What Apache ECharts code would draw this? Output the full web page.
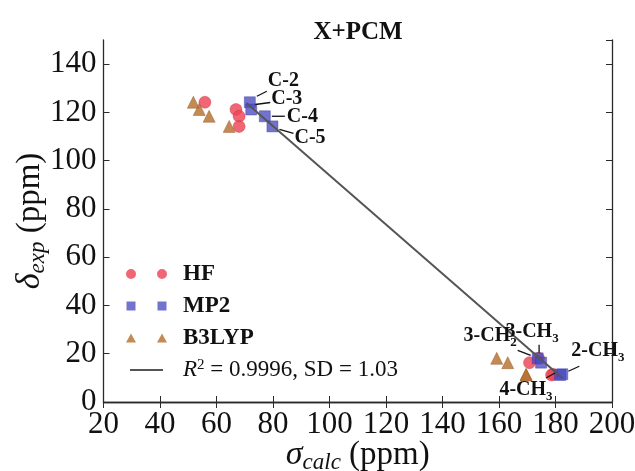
<!DOCTYPE html>
<html>
<head>
<meta charset="utf-8">
<script src="https://cdn.jsdelivr.net/npm/echarts@6/dist/echarts.min.js"></script>
<style>
  html, body { margin: 0; padding: 0; background: #fff; }
  #chart { width: 635px; height: 471px; }
</style>
</head>
<body>
<div id="chart"></div>
<script>
// sites: ring carbons first, then the methyl groups
const siteNames = ['C-2', 'C-3', 'C-4', 'C-5', '3-CH2', '3-CH3', '2-CH3', '4-CH3'];
const deltaExp = [124.2, 121.2, 118.4, 114.2, 18.1, 16.3, 11.5, 11.2];
const sigmaHF = [55.9, 66.9, 68.0, 68.0, 174.0, 170.8, 179.1, 178.6];
const sigmaMP2 = [71.8, 72.3, 77.1, 79.8, 173.7, 174.9, 182.4, 181.6];
const sigmaB3LYP = [51.8, 53.9, 57.4, 64.5, 159.2, 163.1, 169.6, 169.6];
// regression line ends
const fitX = [70.6, 182.5];
const fitY = [123.9, 9.8];
const fitText = ['0.9996', '1.03']; // R^2, SD

// leader line start/end and text position (px from the MP2 point), text align
const annoOffsets = [
  [7, -6, 17, -11, 18, -21, 'left'],
  [4, -5, 19, -7, 20, -11, 'left'],
  [7, 0, 20, 0, 22, 1, 'left'],
  [7, 3, 21, 7, 22, 11, 'left'],
  [-7, -3, -20, -8, -21, -22, 'right'],
  [-2, -10, -2, -18, -9, -31, 'center'],
  [6, -3, 17, -8, 9, -23, 'left'],
  [-5, -2, -14, 3, -34, 15, 'center']
];

const serif = 'Liberation Serif';
const pairs = (xs, ys) => xs.map((x, i) => [x, ys[i]]);

// '3-CH3' -> '{b|3-CH}{s|3}'
function richName(n) {
  const m = n.match(/^(.*CH)(\d)$/);
  return m ? '{b|' + m[1] + '}{s|' + m[2] + '}' : '{b|' + n + '}';
}
const annoRich = {
  b: { fontFamily: serif, fontSize: 20, fontWeight: 'bold', color: '#111', lineHeight: 26 },
  s: { fontFamily: serif, fontSize: 13, fontWeight: 'bold', color: '#111', lineHeight: 13, verticalAlign: 'bottom' }
};
const nameRich = {
  g: { fontFamily: serif, fontSize: 34, fontStyle: 'italic', color: '#111', lineHeight: 38 },
  sub: { fontFamily: serif, fontSize: 23, fontStyle: 'italic', color: '#111', lineHeight: 22, verticalAlign: 'bottom' },
  n: { fontFamily: serif, fontSize: 33, color: '#111', lineHeight: 38 }
};

const chart = echarts.init(document.getElementById('chart'));

const frame = { show: true, lineStyle: { color: '#2a2a2a', width: 1.3 } };
const ticks = { show: true, inside: true, length: 6, lineStyle: { color: '#2a2a2a', width: 1 } };

chart.setOption({
  animation: false,
  title: {
    text: 'X+PCM',
    left: 353,
    top: 15,
    textAlign: 'center',
    textStyle: { fontFamily: serif, fontSize: 25, fontWeight: 'bold', color: '#111' }
  },
  grid: { left: 103.5, right: 23, top: 40, bottom: 69, containLabel: false, outerBoundsMode: 'none' },
  legend: {
    orient: 'vertical',
    left: 126,
    top: 262,
    itemWidth: 41,
    itemHeight: 10,
    itemGap: 8,
    padding: 0,
    selectedMode: false,
    itemStyle: { borderWidth: 0 },
    data: [
      { name: 'HF', icon: 'path://M0,5 A5,5 0 1,1 10,5 A5,5 0 1,1 0,5 Z M31,5 A5,5 0 1,1 41,5 A5,5 0 1,1 31,5 Z' },
      { name: 'MP2', icon: 'path://M0,0 M41,10 M0.5,0.5 h9 v9 h-9 Z M31.5,0.5 h9 v9 h-9 Z' },
      { name: 'B3LYP', icon: 'path://M0,0 M41,10 M5,0.5 L10,9.5 L0,9.5 Z M36,0.5 L41,9.5 L31,9.5 Z' },
      { name: 'fit', icon: 'path://M0,0 M41,10 M4,4 H37 V6 H4 Z', itemStyle: { color: '#555', opacity: 1 } }
    ],
    formatter: function (name) {
      if (name === 'fit') return '{i|R}{sup|2}{r| = ' + fitText[0] + ', SD = ' + fitText[1] + '}';
      return '{n|' + name + '}';
    },
    textStyle: {
      lineHeight: 24,
      rich: {
        n: { fontFamily: serif, fontSize: 23, fontWeight: 'bold', color: '#111', padding: [0, 0, 0, 11], lineHeight: 24 },
        i: { fontFamily: serif, fontSize: 23, fontStyle: 'italic', color: '#111', padding: [0, 0, 0, 11], lineHeight: 24 },
        sup: { fontFamily: serif, fontSize: 15, color: '#111', verticalAlign: 'top', lineHeight: 15 },
        r: { fontFamily: serif, fontSize: 23, color: '#111', lineHeight: 24 }
      }
    }
  },
  xAxis: [
    {
      type: 'value', min: 20, max: 200, interval: 20,
      axisLine: frame, axisTick: ticks, splitLine: { show: false },
      axisLabel: { margin: 7, fontFamily: serif, fontSize: 31, color: '#111' },
      name: '{g|σ}{sub|calc}{n| (ppm)}',
      nameLocation: 'middle', nameGap: 34, nameMoveOverlap: false,
      nameTextStyle: { rich: nameRich }
    },
    {
      type: 'value', position: 'top', min: 20, max: 200, interval: 20,
      axisLine: frame, axisTick: ticks, axisLabel: { show: false }, splitLine: { show: false }
    }
  ],
  yAxis: [
    {
      type: 'value', min: 0, max: 150, interval: 20,
      axisLine: frame, axisTick: ticks, splitLine: { show: false },
      axisLabel: { margin: 7, fontFamily: serif, fontSize: 31, color: '#111', showMaxLabel: false },
      name: '{g|δ}{sub|exp}{n| (ppm)}',
      nameLocation: 'middle', nameGap: 54, nameRotate: 90, nameMoveOverlap: false,
      nameTextStyle: { rich: nameRich }
    },
    {
      type: 'value', position: 'right', min: 0, max: 150, interval: 20,
      axisLine: frame, axisTick: ticks, axisLabel: { show: false }, splitLine: { show: false }
    }
  ],
  series: [
    {
      name: 'HF', type: 'scatter', symbol: 'circle', symbolSize: 12,
      data: pairs(sigmaHF, deltaExp),
      itemStyle: { color: '#EE4455', opacity: 0.82, borderColor: '#C83040', borderWidth: 0.5 }
    },
    {
      name: 'MP2', type: 'scatter', symbol: 'rect', symbolSize: 11,
      data: pairs(sigmaMP2, deltaExp),
      itemStyle: { color: '#4A4AC2', opacity: 0.78, borderColor: '#3030A0', borderWidth: 0.5 }
    },
    {
      name: 'B3LYP', type: 'scatter', symbol: 'triangle', symbolSize: 12,
      data: pairs(sigmaB3LYP, deltaExp),
      itemStyle: { color: '#B8702E', opacity: 0.82, borderColor: '#8A5020', borderWidth: 0.5 }
    },
    {
      name: 'fit', type: 'line', showSymbol: false, symbol: 'none',
      data: pairs(fitX, fitY), z: 4,
      color: '#555',
      lineStyle: { color: '#555', width: 2 }
    },
    {
      name: 'labels', type: 'custom', z: 5,
      data: pairs(sigmaMP2, deltaExp),
      renderItem: function (params, api) {
        const p = api.coord([api.value(0), api.value(1)]);
        const o = annoOffsets[params.dataIndex];
        return {
          type: 'group',
          children: [
            {
              type: 'line',
              shape: { x1: p[0] + o[0], y1: p[1] + o[1], x2: p[0] + o[2], y2: p[1] + o[3] },
              style: { stroke: '#111', lineWidth: 1.3 }
            },
            {
              type: 'text',
              x: p[0] + o[4], y: p[1] + o[5],
              style: {
                text: richName(siteNames[params.dataIndex]),
                rich: annoRich,
                align: o[6], verticalAlign: 'middle', fill: '#111'
              }
            }
          ]
        };
      }
    }
  ]
});
</script>
</body>
</html>
